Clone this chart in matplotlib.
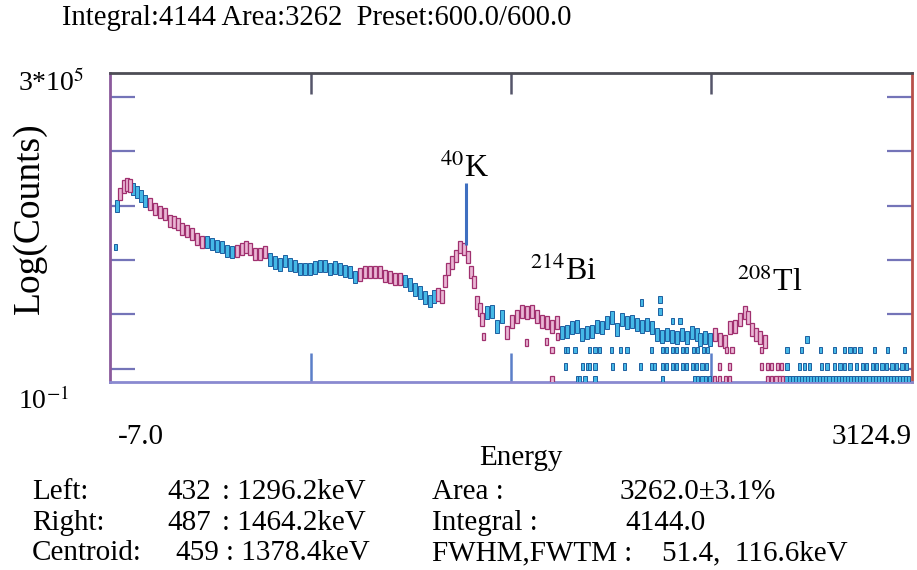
import matplotlib.pyplot as plt
import numpy as np
from matplotlib.ticker import NullLocator

plt.rcParams['font.family'] = ['Liberation Serif', 'DejaVu Serif']
plt.rcParams['mathtext.fontset'] = 'stix'

# main trace: energy (keV) and counts
energy_keV = [20, 32, 48, 59, 71, 83, 98, 114, 130, 149,
              169, 188, 208, 227, 243, 259, 274, 294, 313, 333,
              352, 372, 391, 411, 430, 450, 469, 489, 508, 524,
              540, 559, 579, 598, 618, 637, 657, 676, 696, 715,
              735, 754, 774, 794, 813, 833, 852, 872, 891, 911,
              930, 950, 969, 989, 1008, 1028, 1047, 1067, 1086, 1106,
              1125, 1145, 1164, 1184, 1204, 1223, 1243, 1258, 1274, 1289,
              1301, 1313, 1328, 1344, 1360, 1375, 1391, 1403, 1414, 1426,
              1438, 1446, 1465, 1485, 1504, 1524, 1543, 1563, 1582, 1602,
              1621, 1641, 1660, 1680, 1699, 1719, 1739, 1758, 1778, 1797,
              1817, 1836, 1856, 1875, 1895, 1914, 1934, 1953, 1973, 1992,
              2012, 2031, 2051, 2070, 2090, 2109, 2129, 2149, 2168, 2188,
              2207, 2227, 2246, 2266, 2285, 2297, 2316, 2336, 2356, 2375,
              2395, 2414, 2434, 2453, 2473, 2484, 2500, 2516, 2531, 2551]
counts = [492, 880, 1240, 1365, 1300, 1120, 970, 800, 627, 542,
          425, 367, 334, 238, 226, 205, 161, 146, 126, 99,
          86, 86, 78, 70, 67, 55, 53, 55, 61, 67,
          61, 48, 48, 53, 37, 32, 29, 34, 29, 27,
          23, 23, 23, 25, 27, 27, 23, 25, 23, 21,
          20, 15.6, 18, 20, 20, 20, 20, 16.4, 15.6, 14.2,
          14.2, 12.9, 11.1, 8.7, 7.5, 5.9, 4.9, 6.2, 6.8, 6.2,
          12.9, 23, 32, 43, 67, 61, 41, 20, 12.3, 4.6,
          3.3, 2.03, 2.86, 3.0, 1.45, 2.35, 1.08, 1.85, 2.35, 3.0,
          2.86, 3.0, 2.35, 1.85, 1.76, 1.45, 1.76, 1.08, 1.13, 1.38,
          1.45, 0.98, 1.08, 1.13, 1.45, 1.38, 1.76, 2.24, 1.25, 2.03,
          1.76, 1.85, 1.60, 1.45, 1.60, 1.38, 0.98, 0.89, 0.98, 0.89,
          0.85, 0.98, 0.85, 1.08, 0.98, 0.77, 0.85, 0.77, 0.98, 0.77,
          0.70, 1.38, 1.45, 2.03, 2.86, 2.24, 1.25, 0.98, 0.85, 0.70]

# stray points off the main trace
stray_keV = [13, 1450, 1621, 1699, 1719, 1739, 2070, 2141, 2141, 2188, 2219, 2715]
stray_counts = [67, 0.89, 0.66, 0.70, 0.47, 0.89, 4.6, 3.0, 5.4, 1.9, 1.9, 0.77]

# channels sitting on the three lowest count levels
level_counts = [0.47, 0.21, 0.105]
level1_keV = [1770, 1781, 1809, 1867, 1887, 1906, 1953, 1985, 2012, 2109, 2149, 2168,
              2188, 2207, 2227, 2246, 2270, 2289, 2309, 2328, 2402, 2422, 2539, 2637,
              2695, 2766, 2824, 2863, 2883, 2902, 2922, 2980, 3031, 3097]
level2_keV = [1770, 1840, 1856, 1867, 1887, 1957, 2004, 2063, 2109, 2121, 2152, 2168,
              2188, 2207, 2227, 2246, 2266, 2285, 2305, 2324, 2375, 2414, 2539, 2559,
              2578, 2598, 2617, 2637, 2687, 2707, 2726, 2773, 2793, 2824, 2844, 2863,
              2883, 2910, 2930, 2949, 2969, 2988, 3008, 3027, 3047, 3066, 3086, 3105]
level3_keV = [1719, 1817, 1828, 1848, 1887, 2149, 2277, 2289, 2305, 2320, 2336, 2352,
              2375, 2395, 2414, 2562, 2578, 2594, 2609, 2621, 2633, 2645, 2657, 2669,
              2681, 2693, 2705, 2717, 2729, 2741, 2753, 2765, 2777, 2789, 2801, 2813,
              2825, 2837, 2849, 2861, 2873, 2885, 2897, 2909, 2921, 2933, 2945, 2957,
              2969, 2981, 2993, 3005, 3017, 3029, 3041, 3053, 3065, 3077, 3089, 3101, 3113]

# windows shown in magenta
roi_keV = [(28, 77), (149, 352), (485, 610), (958, 1133), (1274, 1452),
           (1535, 1742), (2344, 2632)]

x_range = (-7.0, 3124.9)
y_range = (0.1, 3e5)
cursor_keV = 1385
cursor_counts = (75, 1450)

peak_names = ['$^{40}$K', '$^{214}$Bi', '$^{208}$Tl']
peak_keV = [1282, 1633, 2441]
peak_counts = [2970, 21, 12.3]

CYAN, CYAN_EDGE = '#45b8e6', '#1d5fa0'
PINK, PINK_EDGE = '#eab6d4', '#a0306f'


def in_roi(e):
    return np.array([any(a <= v <= b for a, b in roi_keV) for v in e])


def draw_points(ax, xs, ys, half_dex, width):
    xs = np.asarray(xs, float)
    ys = np.asarray(ys, float)
    lo = ys / 10 ** half_dex
    hi = ys * 10 ** half_dex
    m = in_roi(xs)
    ax.bar(xs[~m], (hi - lo)[~m], bottom=lo[~m], width=width,
           color=CYAN, edgecolor=CYAN_EDGE, linewidth=0.7, zorder=3)
    ax.bar(xs[m], (hi - lo)[m], bottom=lo[m], width=width,
           color=PINK, edgecolor=PINK_EDGE, linewidth=0.9, zorder=3)


fig = plt.figure(figsize=(9.17, 5.70), dpi=100)
ax = fig.add_axes([0.120, 0.330, 0.8745, 0.542])
ax.set_yscale('log')
ax.set_xlim(*x_range)
ax.set_ylim(*y_range)

draw_points(ax, energy_keV, counts, 0.13, 17)
draw_points(ax, stray_keV, stray_counts, 0.07, 12)
for lev, xs, h in zip(level_counts, [level1_keV, level2_keV, level3_keV], [0.07, 0.07, 0.1]):
    draw_points(ax, xs, [lev] * len(xs), h, 12)

ax.vlines(cursor_keV, *cursor_counts, color='#3f6fc0', linewidth=2.2, zorder=4)

for name, e, c in zip(peak_names, peak_keV, peak_counts):
    ax.text(e, c, name, fontsize=23, va='center', ha='left')

# frame like the scanned screen
ax.spines['left'].set_color('#8b5a9c')
ax.spines['top'].set_color('#4d4d55')
ax.spines['right'].set_color('#b8504a')
ax.spines['bottom'].set_color('#8a8ad0')
for s in ax.spines.values():
    s.set_linewidth(2)

quarters = [x_range[0] + k * (x_range[1] - x_range[0]) / 4 for k in (1, 2, 3)]
ax.set_xticks(quarters)
ax.tick_params(axis='x', direction='in', length=21, width=1.8, color='#5b7fc8',
               labelbottom=False)
top = ax.secondary_xaxis('top')
top.set_xticks(quarters)
top.tick_params(direction='in', length=15, width=1.8, color='#55556a', labeltop=False)
top.spines['top'].set_visible(False)

ax.set_yticks(10 ** np.array([-0.726, 0.414, 1.554, 2.694, 3.834, 4.974]))
ax.yaxis.set_minor_locator(NullLocator())
ax.tick_params(axis='y', which='both', direction='in', left=True, right=True,
               length=18, width=1.6, color='#7474b8', labelleft=False)

fig.text(0.0676, 0.968, 'Integral:4144 Area:3262  Preset:600.0/600.0',
         fontsize=20.6, va='center')
fig.text(0.02, 0.854, r'3*10$^5$', fontsize=20, va='center')
fig.text(0.02, 0.296, r'10$^{-1}$', fontsize=20, va='center')
fig.text(0.154, 0.233, '-7.0', fontsize=21, ha='center', va='center')
fig.text(0.9945, 0.233, '3124.9', fontsize=21, ha='right', va='center')
fig.text(0.568, 0.196, 'Energy', fontsize=21, ha='center', va='center')
fig.text(0.0327, 0.6175, 'Log(Counts)', fontsize=27, rotation=90,
         ha='center', va='center')

rows_y = [0.137, 0.083, 0.030]
col_a = ['Left:', 'Right:', 'Centroid:']
col_b = ['432', '487', '459']
col_c = [': 1296.2keV', ': 1464.2keV', ': 1378.4keV']
col_d = ['Area :', 'Integral :', 'FWHM,FWTM :']
col_e = ['3262.0\u00b13.1%', '4144.0', '51.4,  116.6keV']
bx = [0.182, 0.182, 0.191]
cx = [0.242, 0.242, 0.247]
ex = [0.676, 0.682, 0.722]
for i, y in enumerate(rows_y):
    fig.text(0.035, y, col_a[i], fontsize=21, va='center')
    fig.text(bx[i], y, col_b[i], fontsize=21, va='center')
    fig.text(cx[i], y, col_c[i], fontsize=21, va='center')
    fig.text(0.471, y, col_d[i], fontsize=21, va='center')
    fig.text(ex[i], y, col_e[i], fontsize=21, va='center')

fig.savefig('out.png', dpi=100)
